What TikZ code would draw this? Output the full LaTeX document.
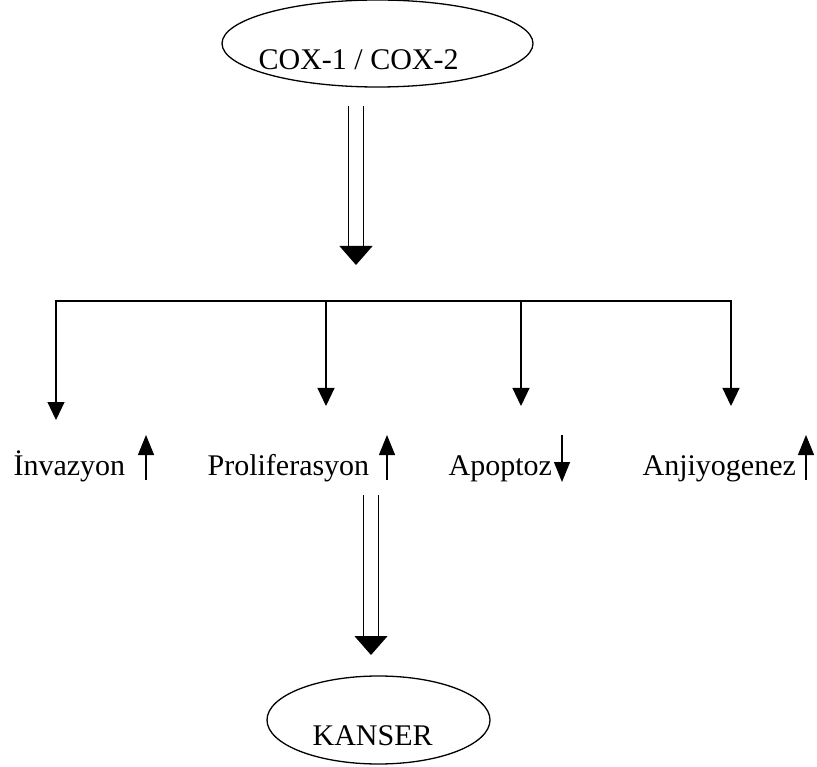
\documentclass[tikz,border=0pt]{standalone}
\usepackage{fontspec}
\setmainfont{Liberation Serif}
\usetikzlibrary{arrows.meta,shapes.geometric}

\begin{document}
\begin{tikzpicture}[x=1pt, y=-1pt, line width=1.2pt,
  font=\fontsize{30}{36}\selectfont,
  oval/.style={draw, ellipse, line width=1.3pt, inner sep=0pt},
  lbl/.style={anchor=base west, inner sep=0pt},
  arr/.style={-{Triangle[length=18pt,width=17pt]}},
  tick/.style={-{Triangle[length=20pt,width=16pt]}},
  fat/.style={double, double distance=14.5pt, -{Triangle[length=19pt,width=33pt]}}]
\useasboundingbox (0,0) rectangle (817,767);
% top and bottom ovals
\node[oval, minimum width=311pt, minimum height=87pt] (cox) at (377.5,43.5) {};
\node[lbl] (coxlbl) at (258,70) {COX-1 / COX-2};
\node[oval, minimum width=223pt, minimum height=88pt] (kanser) at (378.5,720) {};
\node[lbl] (kanserlbl) at (312,745) {KANSER};
% effects
\node[lbl] (inv) at (13,475) {İnvazyon};
\node[lbl] (pro) at (207,475) {Proliferasyon};
\node[lbl] (apo) at (448,475) {Apoptoz};
\node[lbl] (anj) at (642,475) {Anjiyogenez};
% cox -> branching bar
\coordinate (d1a) at (356,106);
\coordinate (d1b) at (356,265);
\draw[fat] (d1a) -- (d1b);
\coordinate (b1) at (56,301);
\coordinate (b2) at (326,301);
\coordinate (b3) at (521,301);
\coordinate (b4) at (731,301);
\coordinate (e1) at (56,420);
\coordinate (e2) at (326,406);
\coordinate (e3) at (521,406);
\coordinate (e4) at (731,406);
\draw[line cap=rect] (b1) -- (b4);
\draw[arr] (b1) -- (e1);
\draw[arr] (b2) -- (e2);
\draw[arr] (b3) -- (e3);
\draw[arr] (b4) -- (e4);
% up / down marks
\draw[tick] (146,480) -- (146,435);
\draw[tick] (387,480) -- (387,435);
\draw[tick] (562,435) -- (562,482);
\draw[tick] (806,480) -- (806,435);
% proliferasyon -> kanser
\coordinate (d2a) at (371,495);
\coordinate (d2b) at (371,655);
\draw[fat] (d2a) -- (d2b);
\end{tikzpicture}
\end{document}
